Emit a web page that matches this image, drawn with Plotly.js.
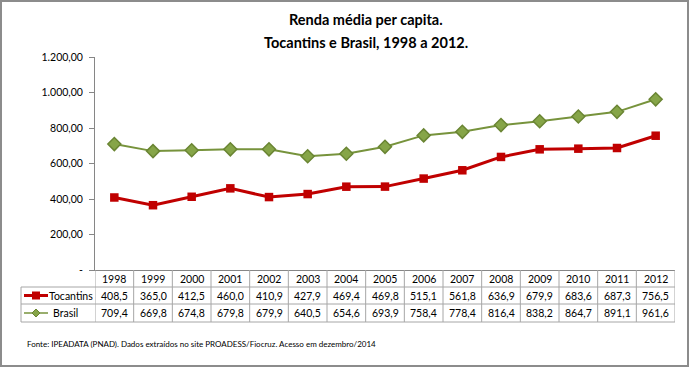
<!DOCTYPE html>
<html><head><meta charset="utf-8">
<script src="https://cdn.plot.ly/plotly-3.0.1.min.js"></script>
<style>body{margin:0;padding:0;background:#fff}#chart{width:690px;height:367px}</style>
</head><body><div id="chart"></div>
<script>
const years = ['1998','1999','2000','2001','2002','2003','2004','2005','2006','2007','2008','2009','2010','2011','2012'];
const tocantins = [408.5,365.0,412.5,460.0,410.9,427.9,469.4,469.8,515.1,561.8,636.9,679.9,683.6,687.3,756.5];
const brasil = [709.4,669.8,674.8,679.8,679.9,640.5,654.6,693.9,758.4,778.4,816.4,838.2,864.7,891.1,961.6];
const yTickVals = [0,200,400,600,800,1000,1200];
const yTickText = ['-','200,00','400,00','600,00','800,00','1.000,00','1.200,00'];
const seriesNames = ['Tocantins','Brasil'];
const titleLines = ['Renda média per capita.','Tocantins e Brasil, 1998 a 2012.'];
const footer = 'Fonte: IPEADATA (PNAD). Dados extraídos no site PROADESS/Fiocruz. Acesso em dezembro/2014';

const W=690,H=367,L=95,R=15,T=57,B=97;
const pw=W-L-R, ph=H-T-B;
const px2x = p => (p-L)/pw;
const py2y = p => (H-B-p)/ph;
const fmt = v => v.toFixed(1).replace('.',',');
const FONT = 'Lato, "Open Sans", sans-serif';
const grid = '#A6A6A6';

const traces = [
 {x:years,y:tocantins,name:seriesNames[0],type:'scatter',mode:'lines+markers',
  line:{color:'#C00000',width:3},marker:{symbol:'square',size:8.5,color:'#C00000'}},
 {x:years,y:brasil,name:seriesNames[1],type:'scatter',mode:'lines+markers',
  line:{color:'#77933C',width:2},marker:{symbol:'diamond',size:10,color:'#86A548',line:{color:'#6A8533',width:1.5}}}
];

const shapes=[], ann=[];
const rowsPx=[270,287,304,322];
const rowY = rowsPx.map(py2y);
[1,2,3].forEach(k=>{
  shapes.push({type:'line',xref:'paper',yref:'paper',x0:px2x(21),x1:1,y0:rowY[k],y1:rowY[k],line:{color:grid,width:1}});
});
for(let i=0;i<=years.length;i++){
  shapes.push({type:'line',xref:'x',yref:'paper',x0:i-0.5,x1:i-0.5,y0:0,y1:rowY[3],line:{color:grid,width:1}});
}
shapes.push({type:'line',xref:'paper',yref:'paper',x0:px2x(21),x1:px2x(21),y0:rowY[1],y1:rowY[3],line:{color:grid,width:1}});
// outer border
shapes.push({type:'rect',xref:'paper',yref:'paper',x0:px2x(1),x1:px2x(688),y0:py2y(1),y1:py2y(366),line:{color:'#8C8C8C',width:2}});
// legend swatches
const ly1=py2y(295.5), ly2=py2y(313);
shapes.push({type:'line',xref:'paper',yref:'paper',x0:px2x(24),x1:px2x(48),y0:ly1,y1:ly1,line:{color:'#C00000',width:3}});
shapes.push({type:'rect',xref:'paper',yref:'paper',x0:px2x(32),x1:px2x(40),y0:py2y(299.5),y1:py2y(291.5),fillcolor:'#C00000',line:{width:0}});
shapes.push({type:'line',xref:'paper',yref:'paper',x0:px2x(24),x1:px2x(48),y0:ly2,y1:ly2,line:{color:'#77933C',width:1.5}});
shapes.push({type:'path',xref:'paper',yref:'paper',
  path:`M ${px2x(36)} ${py2y(309)} L ${px2x(40)} ${ly2} L ${px2x(36)} ${py2y(317)} L ${px2x(32)} ${ly2} Z`,
  fillcolor:'#86A548',line:{color:'#6A8533',width:1}});

const cellFont={family:FONT,size:10.5,color:'#000'};
const cell=(x,xref,y,text,xa)=>({x:x,xref:xref,y:y,yref:'paper',text:text,showarrow:false,
  xanchor:xa||'center',yanchor:'middle',font:cellFont});
years.forEach((yr,i)=>{
  ann.push(cell(i,'x',py2y(278.5),yr));
  ann.push(cell(i,'x',py2y(295.5),fmt(tocantins[i])));
  ann.push(cell(i,'x',py2y(313),fmt(brasil[i])));
});
ann.push(cell(px2x(47),'paper',py2y(295.5),seriesNames[0],'left'));
ann.push(cell(px2x(51),'paper',py2y(313),seriesNames[1],'left'));
// title
ann.push({x:px2x(366),xref:'paper',y:py2y(20),yref:'paper',xanchor:'center',yanchor:'middle',showarrow:false,
  text:'<b>'+titleLines[0]+'</b>',font:{family:FONT,size:14.5,color:'#000'}});
ann.push({x:px2x(366),xref:'paper',y:py2y(42),yref:'paper',xanchor:'center',yanchor:'middle',showarrow:false,
  text:'<b>'+titleLines[1]+'</b>',font:{family:FONT,size:14.5,color:'#000'}});
// footer
ann.push({x:px2x(25),xref:'paper',y:py2y(344),yref:'paper',xanchor:'left',yanchor:'middle',
  text:footer,showarrow:false,font:{family:FONT,size:8,color:'#000'}});

const layout={
  width:W,height:H,margin:{l:L,r:R,t:T,b:B},
  paper_bgcolor:'#fff',plot_bgcolor:'#fff',showlegend:false,
  font:{family:FONT,color:'#000'},
  xaxis:{type:'category',range:[-0.5,years.length-0.5],showticklabels:false,ticks:'',
    showgrid:false,zeroline:false,showline:true,linecolor:'#868686',linewidth:1,fixedrange:true},
  yaxis:{range:[0,1200],tickvals:yTickVals,ticktext:yTickText,ticks:'outside',ticklen:5,tickcolor:'#868686',
    showgrid:false,zeroline:false,showline:true,linecolor:'#868686',linewidth:1,
    tickfont:{family:FONT,size:10.5,color:'#000'},ticklabelstandoff:4,fixedrange:true},
  shapes:shapes,annotations:ann
};
Plotly.newPlot('chart',traces,layout,{staticPlot:true,displayModeBar:false});
</script></body></html>
